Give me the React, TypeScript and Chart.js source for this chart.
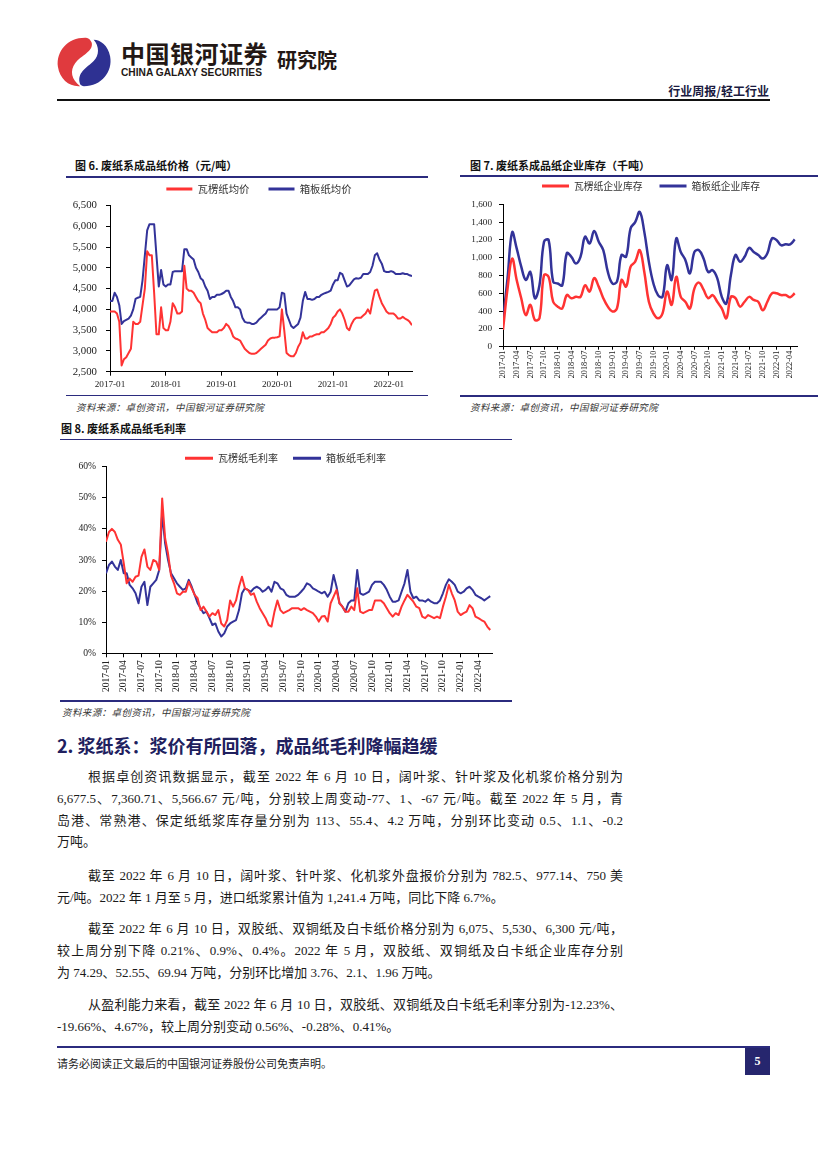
import React, { useEffect, useRef } from "react";
import { Chart, registerables } from "chart.js";

Chart.register(...registerables);

const RED = "#FF3333";
const BLUE = "#333399";
const NAVY = "#2B2B7E";
const CJK = '"Noto Sans CJK SC", sans-serif';
const SERIF = '"Liberation Serif", "Times New Roman", serif';
const MIXED = '"Liberation Serif", "Noto Sans CJK SC", serif';

// ---------- Figure 6: price (yuan/ton), half-month samples from 2017-01 ----------
const priceSeriesNames = ["瓦楞纸均价", "箱板纸均价"];
const priceMonthStep = 0.5;
const priceXTicks = [0, 12, 24, 36, 48, 60];
const corrugatedPrice = [
  3950, 3950, 3950, 3900, 3700, 2650, 2800, 2850, 2950, 3050,
  3700, 3650, 3650, 3700, 4100, 4500, 5400, 5300, 5300, 4400,
  3400, 3400, 4050, 3550, 3500, 3500, 3700, 4150, 4050, 3900,
  3900, 3950, 5050, 4500, 4450, 4450, 4400, 4300, 4200, 4150,
  3900, 3750, 3550, 3500, 3450, 3450, 3450, 3500, 3500, 3550,
  3650, 3600, 3500, 3350, 3300, 3280, 3250, 3150, 3050, 3000,
  2950, 2930, 2930, 2950, 3000, 3050, 3100, 3150, 3250, 3300,
  3320, 3320, 3330, 3350, 4000, 3500, 2950, 2900, 2870, 2870,
  2950, 3100, 3200, 3450, 3300, 3300, 3350, 3350, 3380, 3400,
  3400, 3450, 3450, 3500, 3550, 3650, 3800, 3850, 3950, 4000,
  3900, 3750, 3550, 3500, 3650, 3750, 3800, 3800, 3800, 3850,
  3900, 4000, 3900, 4200, 4450, 4480, 4300, 4150, 4050, 3950,
  3900, 3900, 3900, 3850, 3780, 3780, 3820, 3780, 3750, 3700,
  3620,
];
const boxboardPrice = [
  4200, 4200, 4400, 4300, 4100, 3650, 3720, 3750, 3780, 3850,
  4000, 4250, 4280, 4300, 4700, 5300, 5900, 6050, 6050, 6050,
  5300, 4550, 4950, 4600, 4550, 4600, 4600, 4900, 4920, 4920,
  4920, 4920, 5450, 5450, 5300, 5250, 5200, 5000, 4900, 4750,
  4700, 4550, 4450, 4250, 4300, 4300, 4350, 4350, 4370, 4400,
  4450, 4450, 4300, 4200, 4050, 4050, 4000, 3800, 3700, 3680,
  3680, 3650, 3650, 3680, 3750, 3800, 3850, 3900, 4000, 4000,
  4000, 4000, 4000, 4050, 4400, 4380, 3900, 3750, 3600, 3550,
  3600, 3650, 3800, 4200, 4420, 4250, 4250, 4230, 4250, 4300,
  4300, 4350, 4380, 4400, 4420, 4450, 4600, 4700, 4700, 4880,
  4850, 4700, 4550, 4580, 4650, 4720, 4750, 4740, 4760, 4850,
  4850, 4850, 4900, 5050, 5300, 5350, 5200, 5100, 4920, 4900,
  4900, 4920, 4900, 4850, 4850, 4850, 4870, 4850, 4850, 4820,
  4800,
];

// ---------- Figure 7: inventory (thousand tons), monthly from 2017-01 ----------
const stockSeriesNames = ["瓦楞纸企业库存", "箱板纸企业库存"];
const stockMonthStep = 1;
const quarterTicks = [0, 3, 6, 9, 12, 15, 18, 21, 24, 27, 30, 33, 36, 39, 42, 45, 48, 51, 54, 57, 60, 63];
const corrugatedStock = [
  190, 655, 990, 750, 545, 355, 470, 300, 320, 805,
  785, 505, 450, 430, 580, 545, 560, 560, 690, 620,
  770, 675, 545, 450, 395, 430, 750, 675, 900, 955,
  1085, 840, 505, 375, 320, 375, 620, 470, 785, 560,
  505, 430, 655, 720, 640, 545, 580, 505, 430, 320,
  560, 545, 450, 505, 560, 525, 505, 410, 505, 600,
  600, 580, 580, 555, 600,
];
const boxboardStock = [
  300, 770, 1285, 1105, 900, 750, 840, 545, 690, 1180,
  1200, 730, 710, 690, 1050, 1010, 935, 1010, 1235, 1160,
  1300, 1180, 1085, 840, 710, 730, 1030, 1010, 1330, 1400,
  1515, 1290, 955, 710, 580, 560, 915, 750, 1215, 1065,
  975, 825, 1065, 1085, 990, 840, 860, 770, 560, 485,
  805, 1030, 955, 1010, 1110, 1065, 1030, 990, 1050, 1215,
  1200, 1140, 1150, 1150, 1205,
];

// ---------- Figure 8: gross margin (%), half-month samples from 2017-01 ----------
const marginSeriesNames = ["瓦楞纸毛利率", "箱板纸毛利率"];
const marginMonthStep = 0.5;
const corrugatedMargin = [
  35.9, 39, 40, 39, 36.5, 35, 29, 22.5, 24, 23,
  24.6, 25, 31, 33.4, 27.9, 26.8, 30, 29.5, 26.8, 49.8,
  37, 32, 25, 22.5, 19.3, 18.8, 19.8, 19.8, 23, 20.9,
  18.8, 17.7, 13.9, 15, 13.4, 11.8, 12.9, 12.3, 13.9, 9.6,
  8.6, 10.7, 17, 15, 17, 21.4, 24.6, 20.9, 20.4, 18.8,
  19.3, 16.6, 14.5, 12.9, 11.3, 9.1, 8.6, 13.4, 17, 13.9,
  12.9, 13.4, 13.9, 14.5, 14.5, 14.5, 13.9, 14.5, 13.9, 13.4,
  12.9, 11.8, 10.2, 11.8, 12, 10.2, 16.1, 18.2, 20.4, 16.1,
  15, 13.4, 13.4, 15, 13.9, 20.9, 13.4, 12.9, 13.4, 13.9,
  13.9, 17, 17, 17, 16.1, 14.5, 12.9, 11.8, 12.9, 12.3,
  15, 17, 18.8, 17.7, 16.6, 15, 14.5, 11.8, 11.3, 12.3,
  11.8, 11.3, 11.8, 11.3, 15, 18.2, 22, 19.3, 17, 13.4,
  12.3, 12.9, 13.4, 15.5, 14.5, 11.8, 11.3, 10.7, 10.2, 8.6,
  7.5,
];
const boxboardMargin = [
  25.7, 28.4, 29.5, 27.9, 26.8, 30, 25.7, 25.7, 22, 20.9,
  19.3, 16.1, 21.4, 23, 15.5, 21.4, 22.5, 23.6, 26.8, 45,
  35.4, 30, 25.7, 24.1, 22.5, 21.4, 20.4, 20.9, 23.6, 21.4,
  18.8, 16.1, 14.5, 12.9, 13.4, 11.3, 9.1, 9.6, 7, 5.4,
  6.4, 8.6, 9.6, 10.2, 10.7, 13.9, 19.3, 20.9, 20.4, 19.8,
  20.9, 21.4, 20.9, 19.8, 20.4, 21.4, 19.8, 23, 22.5, 20.9,
  20.4, 18.8, 18.2, 18.2, 18.2, 18.8, 19.8, 20.9, 22.5, 22,
  20.9, 20.4, 19.8, 19.3, 19.8, 18.2, 19.8, 25.2, 21.4, 16.1,
  15, 13.4, 16.1, 17, 17, 26.8, 19.3, 18.8, 19.3, 19.8,
  22, 23, 23, 23, 22, 20.4, 18.2, 16.6, 16.6, 17,
  19.8, 22.5, 26.8, 19.8, 17.7, 18.2, 17, 17, 16.6, 17.4,
  16.6, 16.1, 16.1, 17, 19.3, 22, 23.8, 23, 22, 19.8,
  19.3, 19.8, 20.9, 21.4, 20.4, 18.8, 18.2, 17.7, 17, 17.7,
  18.4,
];

const monthLabel = (m: number) =>
  `${2017 + Math.floor(m / 12)}-${String((m % 12) + 1).padStart(2, "0")}`;

const withCommas = (v: number) => Number(v).toLocaleString("en-US");

function legendPlugin(h: number, center: number) {
  return {
    id: "legendPlace",
    beforeInit(chart: any) {
      const legend = chart.legend;
      if (!legend) return;
      const fit = legend.fit;
      legend.fit = function () {
        fit.call(this);
        this.height = h;
      };
    },
    afterLayout(chart: any) {
      const legend = chart.legend;
      if (!legend) return;
      const half = (legend.right - legend.left) / 2;
      legend.left = center - half;
      legend.right = center + half;
    },
  };
}

type Spec = {
  series: { name: string; color: string; values: number[] }[];
  step: number;
  xMax: number;
  xTicks: number[];
  rotate: number;
  xFont: number;
  xTickLen: number;
  xPad: number;
  xHeight: number;
  yMin: number;
  yMax: number;
  yStep: number;
  yFmt: (v: number) => string;
  yFont: number;
  yPad: number;
  yWidth: number;
  pad: { left: number; right: number; top: number; bottom: number };
  legendFont: number;
  legendGap: number;
  legendHeight: number;
  legendCenter: number;
  legendBox: number;
  lineWidth: number;
  tension: number;
};

function buildConfig(s: Spec): any {
  return {
    type: "line",
    data: {
      datasets: s.series.map((ser) => ({
        label: ser.name,
        data: ser.values.map((v, i) => ({ x: i * s.step, y: v })),
        borderColor: ser.color,
        backgroundColor: ser.color,
        borderWidth: s.lineWidth,
        pointRadius: 0,
        tension: s.tension,
        fill: false,
      })),
    },
    options: {
      animation: false,
      responsive: false,
      devicePixelRatio: 1,
      layout: { padding: s.pad },
      elements: { point: { radius: 0 }, line: { borderJoinStyle: "round" } },
      plugins: {
        legend: {
          display: true,
          position: "top",
          align: "center",
          labels: {
            boxWidth: s.legendBox,
            boxHeight: 3,
            padding: s.legendGap,
            color: "#333",
            font: { family: CJK, size: s.legendFont },
            generateLabels: (chart: any) =>
              (Chart.defaults as any).plugins.legend.labels
                .generateLabels(chart)
                .map((l: any) => ({ ...l, lineWidth: 0 })),
          },
        },
        tooltip: { enabled: false },
      },
      scales: {
        x: {
          type: "linear",
          min: 0,
          max: s.xMax,
          afterBuildTicks: (sc: any) => {
            sc.ticks = s.xTicks.map((v) => ({ value: v }));
          },
          afterFit: (sc: any) => {
            sc.height = s.xHeight;
            sc.paddingLeft = 0;
            sc.paddingRight = 0;
          },
          grid: {
            display: true,
            drawOnChartArea: false,
            drawTicks: true,
            tickLength: s.xTickLen,
            color: "#000",
          },
          border: { display: true, color: "#000", width: 1 },
          ticks: {
            autoSkip: false,
            minRotation: s.rotate,
            maxRotation: s.rotate,
            padding: s.xPad,
            color: "#222",
            font: { family: SERIF, size: s.xFont },
            callback: (v: any) => monthLabel(Number(v)),
          },
        },
        y: {
          type: "linear",
          min: s.yMin,
          max: s.yMax,
          afterFit: (sc: any) => {
            sc.width = s.yWidth;
            sc.paddingTop = 0;
            sc.paddingBottom = 0;
          },
          grid: {
            display: true,
            drawOnChartArea: false,
            drawTicks: true,
            tickLength: 4,
            color: "#000",
          },
          border: { display: true, color: "#000", width: 1 },
          ticks: {
            stepSize: s.yStep,
            padding: s.yPad,
            color: "#222",
            font: { family: SERIF, size: s.yFont },
            callback: (v: any) => s.yFmt(Number(v)),
          },
        },
      },
    },
    plugins: [legendPlugin(s.legendHeight, s.legendCenter)],
  };
}

function ChartBox({ x, y, w, h, spec }: { x: number; y: number; w: number; h: number; spec: Spec }) {
  const ref = useRef<HTMLCanvasElement>(null);
  useEffect(() => {
    const chart = new Chart(ref.current as HTMLCanvasElement, buildConfig(spec));
    return () => chart.destroy();
  }, []);
  return (
    <canvas
      ref={ref}
      width={w}
      height={h}
      style={{ position: "absolute", left: x, top: y, width: w, height: h, display: "block" }}
    />
  );
}

const priceSpec: Spec = {
  series: [
    { name: priceSeriesNames[0], color: RED, values: corrugatedPrice },
    { name: priceSeriesNames[1], color: BLUE, values: boxboardPrice },
  ],
  step: priceMonthStep,
  xMax: 65,
  xTicks: priceXTicks,
  rotate: 0,
  xFont: 9.2,
  xTickLen: 4,
  xPad: 3,
  xHeight: 23.3,
  yMin: 2500,
  yMax: 6500,
  yStep: 500,
  yFmt: withCommas,
  yFont: 10.8,
  yPad: 9,
  yWidth: 48,
  pad: { left: 0, right: 16, top: 4.8, bottom: 0 },
  legendFont: 10.4,
  legendGap: 19,
  legendHeight: 40.7,
  legendCenter: 197,
  legendBox: 26,
  lineWidth: 2,
  tension: 0,
};

const stockSpec: Spec = {
  series: [
    { name: stockSeriesNames[0], color: RED, values: corrugatedStock },
    { name: stockSeriesNames[1], color: BLUE, values: boxboardStock },
  ],
  step: stockMonthStep,
  xMax: 64.5,
  xTicks: quarterTicks,
  rotate: 90,
  xFont: 8.3,
  xTickLen: 3,
  xPad: 1,
  xHeight: 45.3,
  yMin: 0,
  yMax: 1600,
  yStep: 200,
  yFmt: withCommas,
  yFont: 9.2,
  yPad: 7,
  yWidth: 43,
  pad: { left: 0, right: 23, top: 4.1, bottom: 0 },
  legendFont: 9.8,
  legendGap: 17,
  legendHeight: 40.2,
  legendCenter: 191,
  legendBox: 27,
  lineWidth: 2.5,
  tension: 0.4,
};

const marginSpec: Spec = {
  series: [
    { name: marginSeriesNames[0], color: RED, values: corrugatedMargin },
    { name: marginSeriesNames[1], color: BLUE, values: boxboardMargin },
  ],
  step: marginMonthStep,
  xMax: 65.3,
  xTicks: quarterTicks,
  rotate: 90,
  xFont: 9.5,
  xTickLen: 4,
  xPad: 3,
  xHeight: 44.7,
  yMin: 0,
  yMax: 60,
  yStep: 10,
  yFmt: (v) => `${v}%`,
  yFont: 9.6,
  yPad: 6,
  yWidth: 46,
  pad: { left: 0, right: 20, top: 6.3, bottom: 0 },
  legendFont: 10,
  legendGap: 15,
  legendHeight: 28.4,
  legendCenter: 225.5,
  legendBox: 28,
  lineWidth: 2,
  tension: 0,
};

function Txt({
  x,
  cy,
  size,
  children,
  style,
}: {
  x: number;
  cy: number;
  size: number;
  children: any;
  style?: any;
}) {
  const lh = Math.round(size * 1.4);
  return (
    <div
      style={{
        position: "absolute",
        left: x,
        top: cy - lh / 2,
        lineHeight: `${lh}px`,
        fontSize: size,
        whiteSpace: "nowrap",
        ...style,
      }}
    >
      {children}
    </div>
  );
}

function Rule({ x, y, w, h, color }: { x: number; y: number; w: number; h: number; color: string }) {
  return <div style={{ position: "absolute", left: x, top: y, width: w, height: h, background: color }} />;
}

const SOURCE = "资料来源：卓创资讯，中国银河证券研究院";

const paragraphs: { top: number; lines: string[] }[] = [
  {
    top: 777,
    lines: [
      "根据卓创资讯数据显示，截至 2022 年 6 月 10 日，阔叶浆、针叶浆及化机浆价格分别为",
      "6,677.5、7,360.71、5,566.67 元/吨，分别较上周变动-77、1、-67 元/吨。截至 2022 年 5 月，青",
      "岛港、常熟港、保定纸纸浆库存量分别为 113、55.4、4.2 万吨，分别环比变动 0.5、1.1、-0.2",
      "万吨。",
    ],
  },
  {
    top: 876,
    lines: [
      "截至 2022 年 6 月 10 日，阔叶浆、针叶浆、化机浆外盘报价分别为 782.5、977.14、750 美",
      "元/吨。2022 年 1 月至 5 月，进口纸浆累计值为 1,241.4 万吨，同比下降 6.7%。",
    ],
  },
  {
    top: 929,
    lines: [
      "截至 2022 年 6 月 10 日，双胶纸、双铜纸及白卡纸价格分别为 6,075、5,530、6,300 元/吨，",
      "较上周分别下降 0.21%、0.9%、0.4%。2022 年 5 月，双胶纸、双铜纸及白卡纸企业库存分别",
      "为 74.29、52.55、69.94 万吨，分别环比增加 3.76、2.1、1.96 万吨。",
    ],
  },
  {
    top: 1005,
    lines: [
      "从盈利能力来看，截至 2022 年 6 月 10 日，双胶纸、双铜纸及白卡纸毛利率分别为-12.23%、",
      "-19.66%、4.67%，较上周分别变动 0.56%、-0.28%、0.41%。",
    ],
  },
];

export default function App() {
  const LH = 21.7;
  return (
    <div
      style={{
        position: "absolute",
        left: 0,
        top: 0,
        width: 827,
        height: 1169,
        background: "#fff",
        overflow: "hidden",
        fontFamily: CJK,
        color: "#111",
      }}
    >
      {/* Logo */}
      <svg
        width={58}
        height={56}
        viewBox="0 0 60 56"
        style={{ position: "absolute", left: 55, top: 34 }}
      >
        <path
          d="M31 3 C13 3 1 17 3 33 C5 46 15 54 26 53 C17 46 15 37 21 29 C27 21 40 17 38 8 C36 4 34 3 31 3 Z"
          fill="#E03A3E"
        />
        <path
          d="M30 53 C48 53 60 38 57 22 C55 11 47 5 40 5 C46 12 46 21 40 27 C33 34 22 39 26 51 C27 52 28 53 30 53 Z"
          fill="#2E3192"
        />
      </svg>
      <Txt x={121} cy={53} size={24} style={{ fontWeight: 700, color: "#231815", letterSpacing: 0.5 }}>
        中国银河证券
      </Txt>
      <Txt
        x={121}
        cy={73}
        size={10.2}
        style={{ fontFamily: '"Liberation Sans", Arial, sans-serif', fontWeight: 700, color: "#231815" }}
      >
        CHINA GALAXY SECURITIES
      </Txt>
      <Txt x={277} cy={60} size={20} style={{ fontWeight: 700, color: "#231815" }}>
        研究院
      </Txt>
      <div
        style={{
          position: "absolute",
          right: 827 - 769,
          top: 82,
          fontSize: 12,
          lineHeight: "18px",
          fontWeight: 700,
          color: "#1a1a40",
          whiteSpace: "nowrap",
        }}
      >
        行业周报/轻工行业
      </div>
      <Rule x={57} y={99} w={713} h={2} color="#111" />

      {/* Figure 6 */}
      <Txt x={75} cy={165} size={11} style={{ fontWeight: 700 }}>
        图 6. 废纸系成品纸价格（元/吨）
      </Txt>
      <Rule x={66} y={176} w={362} h={1.5} color={NAVY} />
      <ChartBox x={62} y={160} w={366} h={235} spec={priceSpec} />
      <Rule x={66} y={394.5} w={362} h={1.5} color={NAVY} />
      <Txt x={76} cy={407} size={9.5} style={{ fontStyle: "italic", color: "#333", letterSpacing: 0.4 }}>
        {SOURCE}
      </Txt>

      {/* Figure 7 */}
      <Txt x={470} cy={165} size={11} style={{ fontWeight: 700 }}>
        图 7. 废纸系成品纸企业库存（千吨）
      </Txt>
      <Rule x={460} y={175} w={358} h={1.5} color={NAVY} />
      <ChartBox x={460} y={160} w={360} h={232} spec={stockSpec} />
      <Rule x={460} y={395} w={358} h={1.5} color={NAVY} />
      <Txt x={470} cy={407} size={9.5} style={{ fontStyle: "italic", color: "#333", letterSpacing: 0.4 }}>
        {SOURCE}
      </Txt>

      {/* Figure 8 */}
      <Txt x={61} cy={428} size={11} style={{ fontWeight: 700 }}>
        图 8. 废纸系成品纸毛利率
      </Txt>
      <Rule x={60} y={438.5} w={452} h={1.5} color={NAVY} />
      <ChartBox x={60} y={432} w={452} h={266} spec={marginSpec} />
      <Rule x={60} y={700} w={452} h={1.5} color={NAVY} />
      <Txt x={62} cy={712} size={9.5} style={{ fontStyle: "italic", color: "#333", letterSpacing: 0.4 }}>
        {SOURCE}
      </Txt>

      {/* Section 2 */}
      <Txt x={57} cy={745} size={18} style={{ fontWeight: 700, color: "#20205e" }}>
        2. 浆纸系：浆价有所回落，成品纸毛利降幅趋缓
      </Txt>
      {paragraphs.map((p, pi) =>
        p.lines.map((line, li) => {
          const last = li === p.lines.length - 1;
          const indent = li === 0 ? 31 : 0;
          return (
            <div
              key={`${pi}-${li}`}
              style={{
                position: "absolute",
                left: 57 + indent,
                width: 566 - indent,
                top: p.top + li * LH - LH / 2,
                height: LH,
                lineHeight: `${LH}px`,
                fontSize: 13,
                fontFamily: MIXED,
                color: "#1a1a1a",
                textAlign: last ? "left" : "justify",
                textAlignLast: last ? "left" : "justify",
                overflow: "visible",
              }}
            >
              {line}
            </div>
          );
        })
      )}

      {/* Footer */}
      <Rule x={57} y={1046} w={713} h={2} color={NAVY} />
      <Txt x={57} cy={1063} size={11} style={{ color: "#222" }}>
        请务必阅读正文最后的中国银河证券股份公司免责声明。
      </Txt>
      <div
        style={{
          position: "absolute",
          left: 745,
          top: 1048,
          width: 25,
          height: 27,
          background: "#26266e",
          color: "#fff",
          fontFamily: SERIF,
          fontWeight: 700,
          fontSize: 12,
          lineHeight: "27px",
          textAlign: "center",
        }}
      >
        5
      </div>
    </div>
  );
}
